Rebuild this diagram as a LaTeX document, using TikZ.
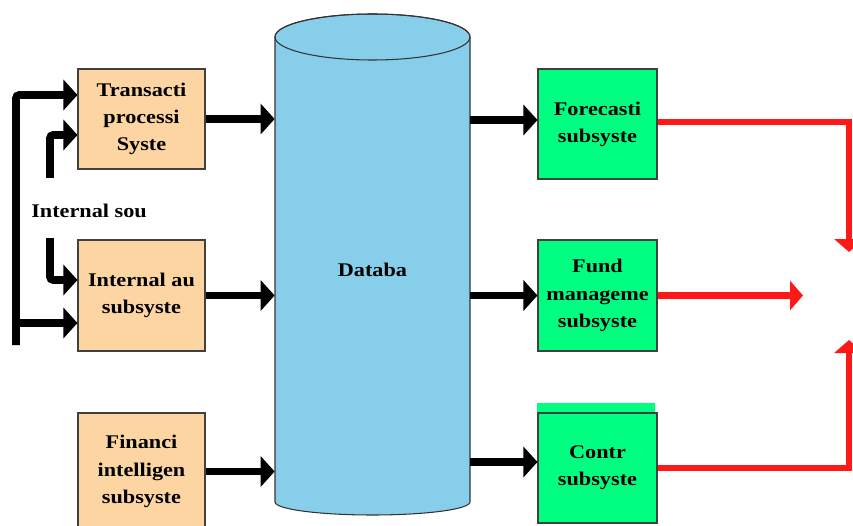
\documentclass[tikz,border=0pt]{standalone}
\usepackage{fontspec}
\setmainfont{Liberation Serif}[FakeStretch=1.15]
\usetikzlibrary{arrows.meta}
\definecolor{peach}{RGB}{252,213,163}
\definecolor{mint}{RGB}{0,255,128}
\definecolor{dbblue}{RGB}{135,206,235}
\definecolor{fbred}{RGB}{255,24,24}

\begin{document}
\begin{tikzpicture}
  [src/.style={draw=black!75,line width=0.6pt,fill=peach,minimum width=2.54cm,
     align=center,inner sep=0pt,font=\bfseries\fontsize{11}{15.5}\selectfont},
   sub/.style={src,fill=mint,minimum width=2.38cm},
   blk/.style={line width=4.5pt,-{Triangle[length=0.28cm,width=0.6cm]}},
   fb/.style={fbred,line width=3.8pt,-{Triangle[length=0.26cm,width=0.58cm]}}]
  \useasboundingbox (0,0) rectangle (17.06,10.5);

  % database cylinder
  \filldraw[fill=dbblue,draw=black!80,line width=0.6pt] (5.5,9.76) -- (5.5,0.46)
    arc[start angle=180,end angle=360,x radius=1.95,y radius=0.26] -- (9.4,9.76)
    arc[start angle=0,end angle=180,x radius=1.95,y radius=0.46] -- cycle;
  \draw[black!80,line width=0.6pt] (7.45,9.76) ellipse[x radius=1.95,y radius=0.46];
  \node[font=\bfseries\fontsize{11}{15.5}\selectfont,minimum width=3.9cm,
    minimum height=9.3cm,inner sep=0pt] (db) at (7.45,5.1) {Databa};

  \node[src,minimum height=2cm] (tps) at (2.83,8.12) {Transacti\\processi\\Syste};
  \node[src,minimum height=2.22cm] (ia) at (2.83,4.59) {Internal au\\subsyste};
  \node[src,minimum height=2.34cm] (fi) at (2.83,1.07) {Financi\\intelligen\\subsyste};
  \node[font=\bfseries\fontsize{11}{15.5}\selectfont] (isrc) at (1.78,6.28) {Internal sou};

  \node[sub,minimum height=2.2cm] (fc) at (11.95,8.02) {Forecasti\\subsyste};
  \node[sub,minimum height=2.22cm] (fm) at (11.95,4.59) {Fund\\manageme\\subsyste};
  \node[sub,minimum height=2.2cm] (ctl) at (11.95,1.14) {Contr\\subsyste};
  \fill[mint] (ctl.north west) rectangle ++(2.36,0.18);

  \foreach \b in {tps,ia,fi} {
    \draw[blk] (\b.east) -- (\b.east -| db.west);
  }
  \draw[blk] ([yshift=0.08cm]db.east |- fc.west) -- ([yshift=0.08cm]fc.west);
  \draw[blk] (db.east |- fm.west) -- (fm.west);
  \draw[blk] ([yshift=0.12cm]db.east |- ctl.west) -- ([yshift=0.12cm]ctl.west);

  % internal sources
  \coordinate (o1) at (0.32,3.6);
  \coordinate (i1) at (1.0,6.94);
  \coordinate (i2) at (1.0,5.74);
  \draw[blk,rounded corners=2pt] (o1) |- ([yshift=0.48cm]tps.west);
  \draw[blk,rounded corners=2pt] (i1) |- ([yshift=-0.32cm]tps.west);
  \draw[blk] ([yshift=-0.55cm]ia.west -| o1) -- ([yshift=-0.55cm]ia.west);
  \draw[blk,rounded corners=2pt] (i2) |- ([yshift=0.31cm]ia.west);

  % outputs
  \coordinate (r1) at (16.98,5.46);
  \coordinate (r2) at (16.06,4.59);
  \coordinate (r3) at (16.98,3.7);
  \draw[fb] ([yshift=0.04cm]fc.east) -| (r1);
  \draw[fb] (fm.east) -- (r2);
  \draw[fb] (ctl.east) -| (r3);
\end{tikzpicture}
\end{document}
